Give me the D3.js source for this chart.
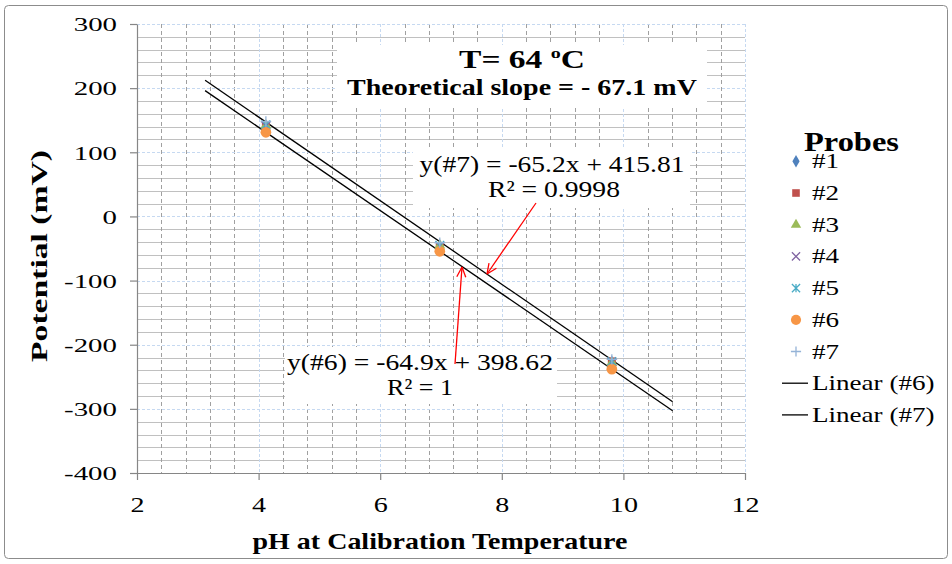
<!DOCTYPE html>
<html><head><meta charset="utf-8">
<script src="https://cdn.jsdelivr.net/npm/d3@7"></script>
<style>
body{margin:0;background:#fff}
svg{display:block}
text{font-family:"Liberation Serif","Times New Roman",serif;fill:#000}
</style>
</head><body>
<svg id="c" width="952" height="564"></svg>
<script>
// ---------- data ----------
const pH = [4.12, 6.98, 9.81];
const probeNames = ["#1", "#2", "#3", "#4", "#5", "#6", "#7"];
const probe1 = [139, -46, -227];
const probe2 = [140, -48, -226];
const probe3 = [142, -45, -228];
const probe4 = [141, -46, -227];
const probe5 = [143, -45, -226];
const probe6 = [131.2, -54.4, -238.1];
const probe7 = [148, -41, -223];
const trendNames = ["Linear (#6)", "Linear (#7)"];
const trendSlopes = [-64.9, -65.2];
const trendIntercepts = [398.62, 415.81];
const trendRange = [3.12, 10.81];
const xTicks = [2, 4, 6, 8, 10, 12];
const yTicks = [300, 200, 100, 0, -100, -200, -300, -400];

const seriesValues = [probe1, probe2, probe3, probe4, probe5, probe6, probe7];
const colors = ["#4F81BD", "#C0504D", "#9BBB59", "#8064A2", "#4BACC6", "#F79646", "#95B3D7"];
const shapes = ["diamond", "square", "triangle", "x", "star", "circle", "plus"];

// ---------- setup ----------
const svg = d3.select("#c");
const X0 = 137, X1 = 745, Y0 = 24, Y1 = 473;
const x = d3.scaleLinear().domain([2, 12]).range([X0, X1]);
const y = d3.scaleLinear().domain([-400, 300]).range([Y1, Y0]);

function txt(g, str, px, py, o) {
  const t = g.append("text").attr("x", 0).attr("y", 0)
    .attr("font-size", o.size)
    .attr("font-weight", o.bold ? "bold" : null)
    .attr("text-anchor", o.anchor || "start");
  if (typeof str === "function") str(t); else t.text(str);
  let sx = 1;
  if (o.width) { const w = t.node().getComputedTextLength(); if (w > 0) sx = o.width / w; }
  if (o.sx) sx = o.sx;
  t.attr("transform", `translate(${px},${py})${o.rotate ? ` rotate(${o.rotate})` : ""} scale(${sx},1)`);
  return t;
}

// outer border
svg.append("rect").attr("x", 4.5).attr("y", 5.5).attr("width", 943).attr("height", 553)
  .attr("rx", 4).attr("fill", "#fff").attr("stroke", "#8c8c8c").attr("stroke-width", 1);

// ---------- gridlines ----------
const grid = svg.append("g");
const minorY = d3.range(-400, 300.01, 20).filter(v => Math.abs(v % 100) > 1e-6);
const minorX = d3.range(2, 12.001, 0.4).map(v => +v.toFixed(2)).filter(v => Math.abs(v / 2 - Math.round(v / 2)) > 1e-6);
grid.selectAll(".hm").data(minorY).join("line")
  .attr("x1", X0).attr("x2", X1).attr("y1", d => Math.round(y(d)) + 0.5).attr("y2", d => Math.round(y(d)) + 0.5)
  .attr("stroke", "#c0c0c0").attr("stroke-width", 1.15);
grid.selectAll(".vm").data(minorX).join("line")
  .attr("y1", Y0).attr("y2", Y1).attr("x1", d => Math.round(x(d)) + 0.5).attr("x2", d => Math.round(x(d)) + 0.5)
  .attr("stroke", "#a0a0a0").attr("stroke-width", 1).attr("stroke-dasharray", "4,3");
grid.selectAll(".hM").data(yTicks.filter(v => v > -400)).join("line")
  .attr("x1", X0).attr("x2", X1).attr("y1", d => Math.round(y(d)) + 0.5).attr("y2", d => Math.round(y(d)) + 0.5)
  .attr("stroke", "#c6d9f1").attr("stroke-width", 1).attr("stroke-dasharray", "3,2");
grid.selectAll(".vM").data(xTicks.filter(v => v > 2)).join("line")
  .attr("y1", Y0).attr("y2", Y1).attr("x1", d => Math.round(x(d)) + 0.5).attr("x2", d => Math.round(x(d)) + 0.5)
  .attr("stroke", "#c6d9f1").attr("stroke-width", 1).attr("stroke-dasharray", "3,2");

// ---------- axes ----------
const fmt = d => String(d);
const yAxis = svg.append("g").attr("transform", `translate(${X0},0)`)
  .call(d3.axisLeft(y).tickValues(yTicks).tickSize(7).tickSizeOuter(0).tickFormat(fmt));
const xAxis = svg.append("g").attr("transform", `translate(0,${Y1})`)
  .call(d3.axisBottom(x).tickValues(xTicks).tickSize(7).tickSizeOuter(0).tickFormat(fmt));
[yAxis, xAxis].forEach(a => {
  a.select(".domain").attr("stroke", "#868686").attr("stroke-width", 1.2);
  a.selectAll(".tick line").attr("stroke", "#868686").attr("stroke-width", 1.2);
});
yAxis.selectAll(".tick text").attr("x", 0).attr("dy", null)
  .attr("font-family", "Liberation Serif").attr("font-size", 19).attr("fill", "#000")
  .attr("text-anchor", "end").attr("transform", "translate(-20,6.8) scale(1.52,1)");
xAxis.selectAll(".tick text").attr("y", 0).attr("dy", null)
  .attr("font-family", "Liberation Serif").attr("font-size", 20.5).attr("fill", "#000")
  .attr("text-anchor", "middle").attr("transform", "translate(0,39) scale(1.37,1)");

// axis titles
txt(svg, "pH at Calibration Temperature", 440, 549, { size: 23, bold: true, anchor: "middle", width: 375 });
txt(svg, "Potential (mV)", 47, 256, { size: 24, bold: true, anchor: "middle", rotate: -90, width: 212 });

// ---------- trendlines ----------
const line = d3.line().x(d => x(d[0])).y(d => y(d[1]));
trendSlopes.forEach((s, i) => {
  const pts = trendRange.map(v => [v, s * v + trendIntercepts[i]]);
  svg.append("path").attr("d", line(pts)).attr("fill", "none").attr("stroke", "#000").attr("stroke-width", 1.3);
});

// ---------- markers ----------
function marker(g, shape, color, cx, cy, scale) {
  const k = scale || 1;
  const gen = { diamond: d3.symbolDiamond, square: d3.symbolSquare, triangle: d3.symbolTriangle, circle: d3.symbolCircle };
  const sizes = { diamond: 50, square: 64, triangle: 52, circle: 90 };
  if (gen[shape]) {
    g.append("path").attr("d", d3.symbol(gen[shape], sizes[shape] * k * k)())
      .attr("transform", `translate(${cx},${cy})`).attr("fill", color);
  } else {
    const r = 4.3 * k;
    let d = "";
    if (shape === "x" || shape === "star") d += `M${-r},${-r}L${r},${r}M${-r},${r}L${r},${-r}`;
    if (shape === "star") d += `M0,${-r}L0,${r}`;
    if (shape === "plus") d += `M${-r - 1},0L${r + 1},0M0,${-r - 1}L0,${r + 1}`;
    g.append("path").attr("d", d).attr("transform", `translate(${cx},${cy})`)
      .attr("fill", "none").attr("stroke", color).attr("stroke-width", 1.3);
  }
}
const pg = svg.append("g");
seriesValues.forEach((vals, i) => {
  vals.forEach((v, j) => marker(pg, shapes[i], colors[i], x(pH[j]), y(v)));
});

// ---------- annotation boxes ----------
svg.append("rect").attr("x", 337).attr("y", 45).attr("width", 370).attr("height", 62).attr("fill", "#fff");
svg.append("rect").attr("x", 413).attr("y", 147).attr("width", 277).attr("height", 61).attr("fill", "#fff");
svg.append("rect").attr("x", 285).attr("y", 347).attr("width", 272).attr("height", 57).attr("fill", "#fff");

txt(svg, t => {
  t.append("tspan").text("T= 64 ");
  t.append("tspan").text("o").attr("font-size", 15).attr("dy", -10);
  t.append("tspan").text("C").attr("dy", 10);
}, 522, 68, { size: 25, bold: true, anchor: "middle", width: 126 });
txt(svg, "Theoretical slope  = - 67.1 mV", 522, 95, { size: 22.5, bold: true, anchor: "middle", width: 350 });

txt(svg, "y(#7) = -65.2x + 415.81", 552, 172, { size: 22.5, anchor: "middle", width: 265 });
txt(svg, "R² = 0.9998", 554, 197, { size: 22.5, anchor: "middle", width: 132 });
txt(svg, "y(#6) = -64.9x + 398.62", 420, 370, { size: 22.5, anchor: "middle", width: 266 });
txt(svg, "R² = 1", 420, 395, { size: 22.5, anchor: "middle", width: 66 });

// ---------- arrows ----------
function arrow(x1, y1, x2, y2) {
  const g = svg.append("g").attr("stroke", "#ff0000").attr("stroke-width", 1.3).attr("fill", "none");
  g.append("line").attr("x1", x1).attr("y1", y1).attr("x2", x2).attr("y2", y2);
  const a = Math.atan2(y1 - y2, x1 - x2), L = 11, s = 0.42;
  [a - s, a + s].forEach(b => g.append("line").attr("x1", x2).attr("y1", y2)
    .attr("x2", x2 + L * Math.cos(b)).attr("y2", y2 + L * Math.sin(b)));
}
arrow(536, 203, 487, 274);
arrow(455, 364, 462, 267);

// ---------- legend ----------
const lg = svg.append("g");
txt(lg, "Probes", 804, 151, { size: 27, bold: true, width: 95 });
const legItems = probeNames.concat(trendNames);
legItems.forEach((name, i) => {
  const by = 168.3 + i * 31.7;
  if (i < 7) marker(lg, shapes[i], colors[i], 796, by - 7, 0.95);
  else lg.append("line").attr("x1", 782).attr("x2", 808).attr("y1", by - 7).attr("y2", by - 7)
    .attr("stroke", "#000").attr("stroke-width", 1.3);
  txt(lg, name, 812, by, { size: 21.5, sx: 1.26 });
});
</script>
</body></html>
